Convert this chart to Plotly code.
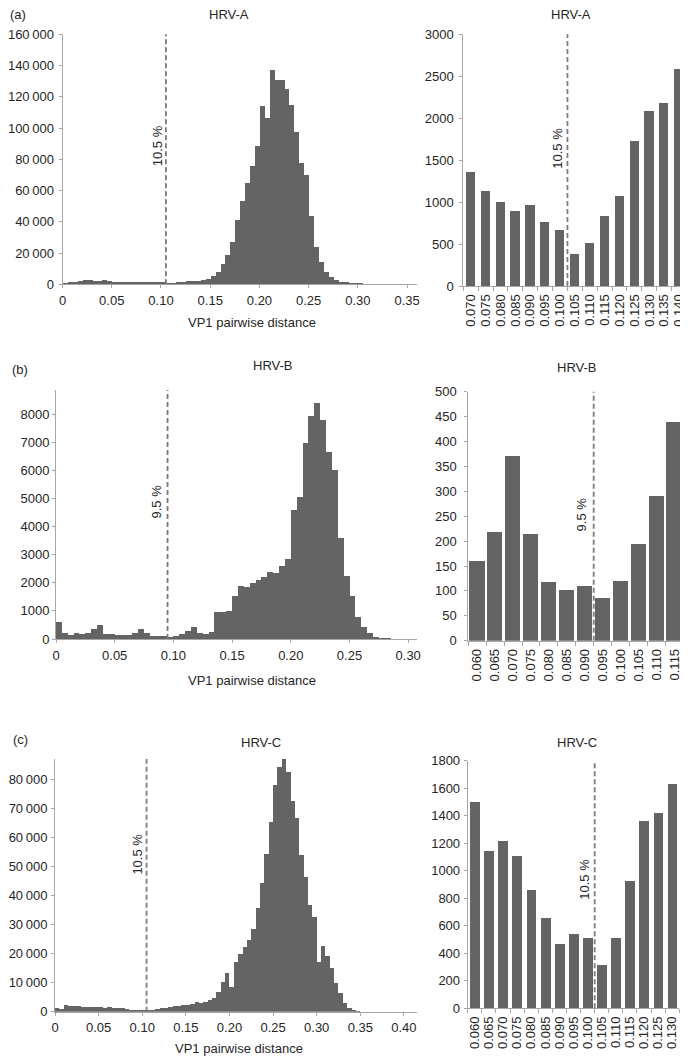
import plotly.graph_objects as go

# the page body adds an 8 px margin, so the figure is 8 px smaller than the window
OFF = 8
W, H = 688 - OFF, 1057 - OFF
bin_width = 0.005

# ---------------- data (counts per 0.005-wide bin, starting at 0) ----------------
hrvA_counts = [600, 900, 1400, 1900, 2300, 2400, 2200, 2100, 2300, 1900,
               1500, 1200, 1100, 1200, 1355, 1133, 994, 894, 962, 759,
               668, 374, 513, 827, 1073, 1729, 2086, 2182, 2587, 3300,
               5300, 7900, 12800, 18700, 26600, 40700, 52900, 64600, 75700, 88100,
               114000, 106200, 136700, 130700, 130500, 125000, 114600, 97300, 77600, 69800,
               43700, 24000, 14200, 8000, 4300, 2400, 1300, 700, 350, 150, 60]
hrvB_counts = [590, 225, 140, 200, 180, 225, 355, 500, 180, 165,
               155, 130, 160, 219, 371, 214, 119, 103, 110, 87,
               121, 195, 292, 439, 200, 180, 260, 970, 950, 1000,
               1530, 1880, 1840, 1980, 2100, 2220, 2390, 2360, 2600, 2840,
               4590, 5060, 6990, 7930, 8380, 7810, 6660, 6030, 3580, 2240,
               1530, 790, 415, 200, 85, 30, 15]
hrvC_counts = [1150, 800, 2300, 2060, 1950, 1830, 1720, 1720, 1600, 1720,
               1490, 1380, 1502, 1143, 1221, 1110, 862, 659, 472, 543,
               516, 315, 511, 928, 1361, 1420, 1634, 1800, 2000, 2180,
               2290, 2640, 3200, 3100, 3440, 4000, 4600, 6650, 10100, 13200,
               8600, 17200, 19700, 22200, 24600, 28300, 35500, 44300, 54400, 65300,
               77900, 84000, 86900, 82300, 72400, 66700, 53900, 46400, 36800, 32700,
               17200, 22700, 19100, 15100, 9700, 6300, 2870, 1150, 340, 100]

hrvA_zoom_labels = ["0.070", "0.075", "0.080", "0.085", "0.090", "0.095", "0.100", "0.105",
                    "0.110", "0.115", "0.120", "0.125", "0.130", "0.135", "0.140"]
hrvA_zoom_counts = [1355, 1133, 994, 894, 962, 759, 668, 374, 513, 827, 1073, 1729, 2086, 2182, 2587]
hrvB_zoom_labels = ["0.060", "0.065", "0.070", "0.075", "0.080", "0.085", "0.090", "0.095",
                    "0.100", "0.105", "0.110", "0.115"]
hrvB_zoom_counts = [160, 219, 371, 214, 119, 103, 110, 87, 121, 195, 292, 439]
hrvC_zoom_labels = ["0.060", "0.065", "0.070", "0.075", "0.080", "0.085", "0.090", "0.095",
                    "0.100", "0.105", "0.110", "0.115", "0.120", "0.125", "0.130"]
hrvC_zoom_counts = [1502, 1143, 1221, 1110, 862, 659, 472, 543, 516, 315, 511, 928, 1361, 1420, 1634]

thresholds = [0.105, 0.095, 0.105]
titles = ["HRV-A", "HRV-B", "HRV-C"]
panel_tags = ["(a)", "(b)", "(c)"]
x_label = "VP1 pairwise distance"

left_xticks = [[0, 0.05, 0.10, 0.15, 0.20, 0.25, 0.30, 0.35],
               [0, 0.05, 0.10, 0.15, 0.20, 0.25, 0.30],
               [0, 0.05, 0.10, 0.15, 0.20, 0.25, 0.30, 0.35, 0.40]]
left_yticks = [[0, 20000, 40000, 60000, 80000, 100000, 120000, 140000, 160000],
               [0, 1000, 2000, 3000, 4000, 5000, 6000, 7000, 8000],
               [0, 10000, 20000, 30000, 40000, 50000, 60000, 70000, 80000]]
right_yticks = [[0, 500, 1000, 1500, 2000, 2500, 3000],
                [0, 50, 100, 150, 200, 250, 300, 350, 400, 450, 500],
                [0, 200, 400, 600, 800, 1000, 1200, 1400, 1600, 1800]]

# ---------------- layout geometry (window pixels) ----------------
left_px = [dict(x=(62.5, 417), y=(34.3, 284.3), xmax=0.36, ymax=160000, ystand=2),
           dict(x=(56, 417), y=(390, 639), xmax=0.3075, ymax=8860, ystand=0),
           dict(x=(55, 417), y=(759, 1011.7), xmax=0.415, ymax=86900, ystand=1)]
right_px = [dict(x=(463.3, 686.5), y=(34.3, 286), ymax=3000, bw=0.62, ystand=3),
            dict(x=(468.3, 683.3), y=(391.7, 640.7), ymax=500, bw=0.85, ystand=5),
            dict(x=(467.7, 679.3), y=(760.7, 1008.3), ymax=1800, bw=0.70, ystand=1)]
title_pos_left = [(229, 14), (273, 366), (261, 742)]
title_pos_right = [(571, 14), (577, 367), (577, 742)]
tag_pos = [(18, 14.5), (20, 369), (20, 739)]
xlabel_pos = [(252, 322), (252, 680), (239, 1048)]
thr_text_left = [(-8.7, 0.553), (-10.8, 0.551), (-10.0, 0.624)]
thr_text_right = [(-10.8, 0.548), (-11.3, 0.509), (-11.0, 0.522)]

FONT = "Liberation Sans, Arial, sans-serif"
TXT = "#262626"
AX = "#a6a6a6"
BAR = "#646464"
DASH = "#7a7a7a"
TFONT = dict(family=FONT, size=13, color=TXT)


def fx(p):
    return (p - OFF) / W


def fy(p):
    return 1 - (p - OFF) / H


def text_ann(px, py, text):
    return dict(x=fx(px), y=fy(py), xref="paper", yref="paper", xanchor="center",
                yanchor="middle", text=text, showarrow=False, font=TFONT)


def thin(v):
    return f"{v:,}".replace(",", "\u2009")


def xfmt(v):
    return "0" if v == 0 else f"{v:.2f}"


def sfx(n):
    return "" if n == 1 else str(n)


fig = go.Figure()
annotations = []
shapes = []
layout_axes = {}

left_counts = [hrvA_counts, hrvB_counts, hrvC_counts]
zoom_labels = [hrvA_zoom_labels, hrvB_zoom_labels, hrvC_zoom_labels]
zoom_counts = [hrvA_zoom_counts, hrvB_zoom_counts, hrvC_zoom_counts]

for i in range(3):
    thr = thresholds[i]
    # ---- left histogram ----
    n = 2 * i + 1
    xa, ya = f"x{sfx(n)}", f"y{sfx(n)}"
    counts = left_counts[i]
    centers = [k * bin_width + bin_width / 2 for k in range(len(counts))]
    fig.add_trace(go.Bar(x=centers, y=counts, width=bin_width, marker_color=BAR,
                         marker_line_width=0, xaxis=xa, yaxis=ya, hoverinfo="x+y"))
    g = left_px[i]
    common = dict(showline=True, linecolor=AX, linewidth=1, ticks="outside", tickcolor=AX,
                  ticklen=3, tickwidth=1, showgrid=False, zeroline=False, automargin=False,
                  tickfont=TFONT)
    layout_axes[f"xaxis{sfx(n)}"] = dict(domain=[fx(g["x"][0]), fx(g["x"][1])], anchor=ya,
                                         range=[0, g["xmax"]], tickmode="array",
                                         tickvals=left_xticks[i],
                                         ticktext=[xfmt(v) for v in left_xticks[i]],
                                         ticklabelstandoff=1, **common)
    layout_axes[f"yaxis{sfx(n)}"] = dict(domain=[fy(g["y"][1]), fy(g["y"][0])], anchor=xa,
                                         range=[0, g["ymax"]], tickmode="array",
                                         tickvals=left_yticks[i],
                                         ticktext=[thin(v) if v >= 10000 else str(v) for v in left_yticks[i]],
                                         ticklabelstandoff=g["ystand"], **common)
    shapes.append(dict(type="line", xref=xa, yref=f"{ya} domain", x0=thr, x1=thr, y0=0, y1=1,
                       line=dict(color=DASH, width=1.8, dash="5px,3px")))
    annotations.append(dict(x=thr, xref=xa, y=thr_text_left[i][1], yref=f"{ya} domain",
                            xanchor="center", yanchor="middle",
                            xshift=thr_text_left[i][0], text=f"{thr * 100:.1f} %", textangle=-90,
                            showarrow=False, font=TFONT))
    annotations.append(text_ann(title_pos_left[i][0], title_pos_left[i][1], titles[i]))
    annotations.append(text_ann(tag_pos[i][0], tag_pos[i][1], panel_tags[i]))
    annotations.append(text_ann(xlabel_pos[i][0], xlabel_pos[i][1], x_label))

    # ---- right zoomed bar chart ----
    n = 2 * i + 2
    xa, ya = f"x{n}", f"y{n}"
    labs = zoom_labels[i]
    g = right_px[i]
    zc = [float(l) + bin_width / 2 for l in labs]
    fig.add_trace(go.Bar(x=zc, y=zoom_counts[i], width=bin_width * g["bw"], marker_color=BAR,
                         marker_line_width=0, xaxis=xa, yaxis=ya, hoverinfo="y"))
    x0 = float(labs[0])
    layout_axes[f"xaxis{n}"] = dict(domain=[fx(g["x"][0]), min(1, fx(g["x"][1]))], anchor=ya,
                                    range=[x0, float(labs[-1]) + bin_width], tickmode="array",
                                    tickvals=zc, ticktext=labs, ticks="", tickangle=-90,
                                    showline=True, linecolor=AX, linewidth=1, showgrid=False,
                                    zeroline=False, ticklabelstandoff=2, automargin=False,
                                    tickfont=TFONT,
                                    minor=dict(ticks="outside", tick0=x0, dtick=bin_width,
                                               ticklen=4, tickcolor=AX, showgrid=False))
    layout_axes[f"yaxis{n}"] = dict(domain=[fy(g["y"][1]), fy(g["y"][0])], anchor=xa,
                                    range=[0, g["ymax"]], tickmode="array",
                                    tickvals=right_yticks[i],
                                    ticktext=[str(v) for v in right_yticks[i]],
                                    showline=True, linecolor=AX, linewidth=1, ticks="outside",
                                    tickcolor=AX, ticklen=3, showgrid=False, zeroline=False,
                                    ticklabelstandoff=g["ystand"], automargin=False,
                                    tickfont=TFONT)
    shapes.append(dict(type="line", xref=xa, yref=f"{ya} domain", x0=thr, x1=thr, y0=0, y1=1,
                       line=dict(color=DASH, width=1.8, dash="5px,3px")))
    annotations.append(dict(x=thr, xref=xa, y=thr_text_right[i][1], yref=f"{ya} domain",
                            xanchor="center", yanchor="middle",
                            xshift=thr_text_right[i][0], text=f"{thr * 100:.1f} %", textangle=-90,
                            showarrow=False, font=TFONT))
    annotations.append(text_ann(title_pos_right[i][0], title_pos_right[i][1], titles[i]))

fig.update_layout(width=W, height=H, margin=dict(l=0, r=0, t=0, b=0), showlegend=False,
                  plot_bgcolor="white", paper_bgcolor="white", bargap=0,
                  annotations=annotations, shapes=shapes, **layout_axes)
fig.write_html("out.html")
